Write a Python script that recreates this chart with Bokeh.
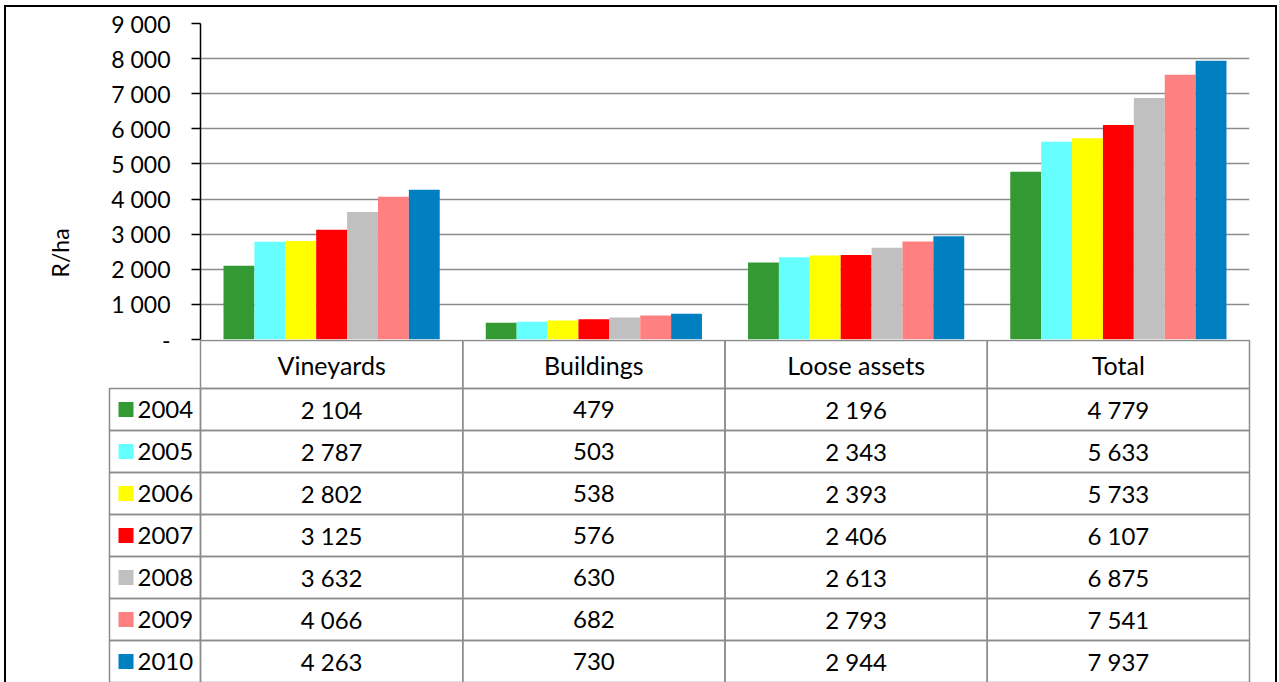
from bokeh.plotting import figure
from bokeh.models import FactorRange, Range1d, ColumnDataSource, FixedTicker, Title
from bokeh.layouts import column, row
from bokeh.core.properties import value
from bokeh.embed import file_html
from bokeh.resources import INLINE

# ---------------- data ----------------
categories = ["Vineyards", "Buildings", "Loose assets", "Total"]
years = ["2004", "2005", "2006", "2007", "2008", "2009", "2010"]
vineyards = [2104, 2787, 2802, 3125, 3632, 4066, 4263]
buildings = [479, 503, 538, 576, 630, 682, 730]
loose_assets = [2196, 2343, 2393, 2406, 2613, 2793, 2944]
total = [4779, 5633, 5733, 6107, 6875, 7541, 7937]
y_ticks = [0, 1000, 2000, 3000, 4000, 5000, 6000, 7000, 8000, 9000]
y_label = "R/ha"

series = [vineyards, buildings, loose_assets, total]
colors = ["#339933", "#66FFFF", "#FFFF00", "#FF0000", "#C0C0C0", "#FF8080", "#0080C0"]

FONT = "Lato"
FS = "23px"       # axis text
FS_T = "24px"     # table values / legend
FS_H = "25px"     # table header
GRID = "#8c8c8c"
W = 1269        # inner width (page x 6..1275)
OVER = 14       # overlap of the table canvas over the chart canvas


def fmt(v):
    return f"{v:,}".replace(",", " ")


# ---------------- bar chart ----------------
GROUP_PAD = 1.49
x_range = FactorRange(*[(c, y) for c in categories for y in years],
                      group_padding=GROUP_PAD, range_padding=GROUP_PAD / 2,
                      range_padding_units="absolute")

xs, tops, cols = [], [], []
for c, vals in zip(categories, series):
    for y, v, col in zip(years, vals, colors):
        xs.append((c, y))
        tops.append(v)
        cols.append(col)
bar_src = ColumnDataSource(dict(x=xs, top=tops, color=cols))

p = figure(width=W, height=332 + OVER, x_range=x_range, y_range=Range1d(0, 9000),
           output_backend="svg", toolbar_location=None, x_axis_location=None,
           min_border_left=194, min_border_right=26, min_border_top=16,
           min_border_bottom=OVER)
p.vbar(x="x", top="top", width=1.0, source=bar_src, fill_color="color",
       line_color=None)
p.outline_line_color = None
p.xgrid.grid_line_color = None
p.ygrid.grid_line_color = GRID
p.ygrid.grid_line_width = 1.3
p.yaxis.ticker = FixedTicker(ticks=y_ticks)
p.yaxis.major_label_overrides = {t: ("-" if t == 0 else fmt(t)) for t in y_ticks}
p.yaxis.axis_line_color = "black"
p.yaxis.axis_line_width = 1.5
p.yaxis.major_tick_line_color = "black"
p.yaxis.major_tick_line_width = 1.3
p.yaxis.major_tick_out = 9
p.yaxis.major_tick_in = 0
p.yaxis.minor_tick_line_color = None
p.yaxis.major_label_text_font = FONT
p.yaxis.major_label_text_font_size = FS
p.yaxis.major_label_text_color = "black"
p.yaxis.major_label_standoff = 21
p.add_layout(Title(text=y_label, align="left", offset=62, standoff=70,
                   text_font=FONT, text_font_size=FS,
                   text_font_style="normal", text_color="black"), "left")

# ---------------- data table with legend column ----------------
GX = 1049 / 4          # px per category column
ROW_PX = 42
HDR = 48 / ROW_PX
NROWS = len(years)
LEG_W = 91 / GX

t = figure(width=W, height=343,
           x_range=Range1d(-LEG_W - 2 / GX, len(categories) + 2 / GX),
           y_range=Range1d(NROWS + HDR, -1 / ROW_PX),
           output_backend="svg", toolbar_location=None,
           x_axis_location=None, y_axis_location=None,
           min_border_left=101, min_border_right=24, min_border_top=0,
           min_border_bottom=0)
t.grid.grid_line_color = None
t.outline_line_color = None
t.background_fill_color = None
t.border_fill_color = None

centers = [i + 0.5 for i in range(len(categories))]

# header cells
hdr_src = ColumnDataSource(dict(x=centers, y=[HDR / 2] * len(categories),
                                label=categories))
t.rect(x="x", y="y", width=1, height=HDR, source=hdr_src,
       fill_color=None, line_color=GRID, line_width=1.5)
t.text(x="x", y="y", text="label", source=hdr_src, text_align="center",
       text_baseline="middle", text_font=value(FONT),
       text_font_size=value(FS_H), text_color="black")

cx, cy, ctext = [], [], []
for i, vals in enumerate(series):
    for j, v in enumerate(vals):
        cx.append(centers[i])
        cy.append(HDR + j + 0.5)
        ctext.append(fmt(v))
cell_src = ColumnDataSource(dict(x=cx, y=cy, label=ctext))
t.rect(x="x", y="y", width=1, height=1, source=cell_src,
       fill_color=None, line_color=GRID, line_width=1.5)
t.text(x="x", y="y", text="label", source=cell_src, text_align="center",
       text_baseline="middle", text_font=value(FONT),
       text_font_size=value(FS_T), text_color="black")

# legend column
ly = [HDR + j + 0.5 for j in range(NROWS)]
leg_src = ColumnDataSource(dict(y=ly, label=years, color=colors))
t.rect(x=-LEG_W / 2, y="y", width=LEG_W, height=1, source=leg_src,
       fill_color=None, line_color=GRID, line_width=1.5)
t.scatter(x=-LEG_W + 16.5 / GX, y="y", marker="square", size=15,
          source=leg_src, fill_color="color", line_color=None)
t.text(x=-LEG_W + 28 / GX, y="y", text="label", source=leg_src,
       text_align="left", text_baseline="middle", text_font=value(FONT),
       text_font_size=value(FS_T), text_color="black")

layout = column(p, row(t, styles={"margin-top": f"-{OVER}px"}), spacing=0,
                styles={"margin": "5px 0 0 4px", "border": "2px solid black",
                        "border-bottom": "none"})

open("out.html", "w").write(file_html(layout, INLINE))
